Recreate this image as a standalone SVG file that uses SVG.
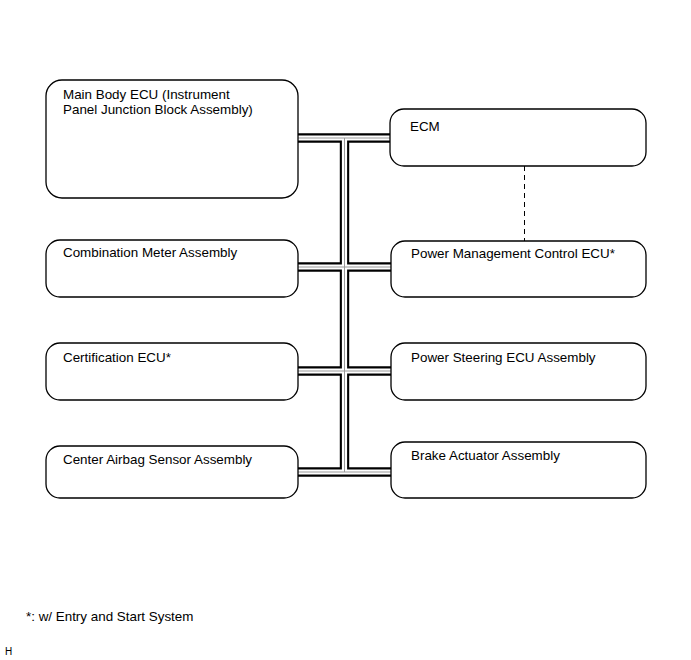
<svg xmlns="http://www.w3.org/2000/svg" xmlns:xlink="http://www.w3.org/1999/xlink" width="691" height="660" viewBox="0 0 691 660">
<style>
.box{fill:#fff;stroke:#000;stroke-width:1.3}
.t{font-family:"Liberation Sans",Arial,sans-serif;font-size:13.4px;fill:#000}
.bk{fill:none;stroke:#000;stroke-width:9.4}
.wh{fill:none;stroke:#fff;stroke-width:5.2}
.gr{fill:none;stroke:#999;stroke-width:1}
.dash{fill:none;stroke:#000;stroke-width:1;stroke-dasharray:5,4}
</style>
<defs>
<path id="bus" d="M298,138 H390 M344.5,138 V472 M298,267 H391 M298,371 H391 M298,472 H391"/>
</defs>
<rect width="691" height="660" fill="#fff"/>
<g id="connectors">
<use xlink:href="#bus" class="bk"/>
<use xlink:href="#bus" class="wh"/>
<use xlink:href="#bus" class="gr"/>
<line class="dash" x1="524.5" y1="166" x2="524.5" y2="241"/>
</g>
<g id="main-body-ecu">
<rect class="box" x="46" y="80" width="252" height="118" rx="16"/>
<text class="t" x="63" y="99">Main Body ECU (Instrument</text>
<text class="t" x="63" y="114">Panel Junction Block Assembly)</text>
</g>
<g id="ecm">
<rect class="box" x="390" y="109" width="256" height="57" rx="14"/>
<text class="t" x="410" y="131">ECM</text>
</g>
<g id="combination-meter">
<rect class="box" x="46" y="240" width="252" height="57" rx="14"/>
<text class="t" x="63" y="257">Combination Meter Assembly</text>
</g>
<g id="power-management">
<rect class="box" x="391" y="241" width="255" height="56" rx="14"/>
<text class="t" x="411" y="258">Power Management Control ECU*</text>
</g>
<g id="certification-ecu">
<rect class="box" x="46" y="343" width="252" height="57" rx="14"/>
<text class="t" x="63" y="362">Certification ECU*</text>
</g>
<g id="power-steering">
<rect class="box" x="391" y="343" width="255" height="57" rx="14"/>
<text class="t" x="411" y="362">Power Steering ECU Assembly</text>
</g>
<g id="center-airbag">
<rect class="box" x="46" y="446" width="252" height="52" rx="14"/>
<text class="t" x="63" y="464">Center Airbag Sensor Assembly</text>
</g>
<g id="brake-actuator">
<rect class="box" x="391" y="442" width="255" height="56" rx="14"/>
<text class="t" x="411" y="460">Brake Actuator Assembly</text>
</g>
<text class="t" x="26" y="621">*: w/ Entry and Start System</text>
<text class="t" x="5" y="655" style="font-size:10px">H</text>
</svg>
